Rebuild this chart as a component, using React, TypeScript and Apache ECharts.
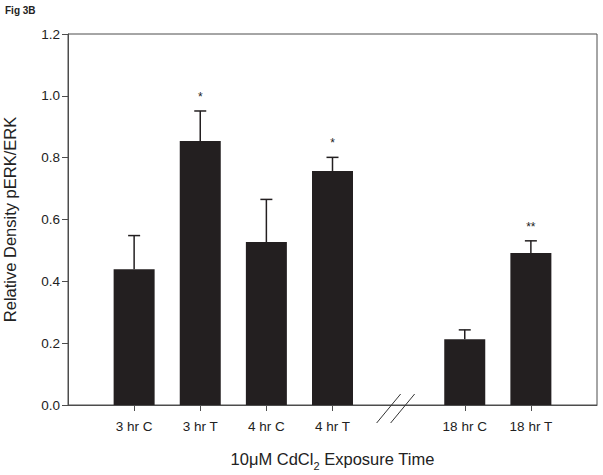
import { useEffect, useRef } from 'react';
import * as echarts from 'echarts';

const categories = ['3 hr C', '3 hr T', '4 hr C', '4 hr T', '18 hr C', '18 hr T'];
const positions = [1, 2, 3, 4, 6, 7];
const means = [0.439, 0.854, 0.527, 0.757, 0.213, 0.492];
const errors = [0.109, 0.097, 0.138, 0.044, 0.030, 0.039];
const marks = ['', '*', '', '*', '', '**'];
const breakAt = [5];

const FONT = '"Liberation Sans", Arial, sans-serif';
const AXIS = '#4d4d4d';
const BAR = '#231f20';

export default function App() {
  const ref = useRef<HTMLDivElement>(null);
  useEffect(() => {
    if (!ref.current) return;
    const chart = echarts.init(ref.current, undefined, { renderer: 'svg' });
    const barData = positions.map((p, i) => [p, means[i]]);
    const errData = positions.map((p, i) => [p, means[i], errors[i], i]);
    chart.setOption({
      animation: false,
      textStyle: { fontFamily: FONT },
      grid: {
        left: 68, right: 6, top: 34, bottom: 70,
        show: true, borderColor: AXIS, borderWidth: 1,
        containLabel: false, outerBoundsMode: 'none',
      },
      graphic: [
        { type: 'text', left: 5, top: 5, style: { text: 'Fig 3B', font: 'bold 10px ' + FONT, fill: '#222' } },
      ],
      xAxis: {
        type: 'value',
        min: 0,
        max: 8,
        interval: 1,
        splitLine: { show: false },
        axisLine: { show: true, lineStyle: { color: AXIS, width: 1 } },
        axisTick: { show: true, customValues: positions, length: 6, lineStyle: { color: AXIS } },
        axisLabel: {
          customValues: positions,
          formatter: (v: number) => categories[positions.indexOf(v)] ?? '',
          fontSize: 13.5,
          color: '#222',
          margin: 14,
          fontFamily: FONT,
        },
        name: '{a|10μM CdCl}{s|2}{a| Exposure Time}',
        nameLocation: 'middle',
        nameGap: 42,
        nameTextStyle: {
          rich: {
            a: { fontSize: 16.5, color: '#222', fontFamily: FONT, lineHeight: 20, verticalAlign: 'bottom' },
            s: { fontSize: 11, color: '#222', fontFamily: FONT, lineHeight: 20, verticalAlign: 'bottom', padding: [0, 0, -4, 0] },
          },
        },
      },
      yAxis: {
        type: 'value',
        min: 0,
        max: 1.2,
        interval: 0.2,
        splitLine: { show: false },
        axisLine: { show: true, lineStyle: { color: AXIS, width: 1 } },
        axisTick: { show: true, length: 6, lineStyle: { color: AXIS } },
        axisLabel: { formatter: (v: number) => v.toFixed(1), fontSize: 13.5, color: '#222', margin: 8, fontFamily: FONT },
        name: 'Relative Density pERK/ERK',
        nameLocation: 'middle',
        nameGap: 50,
        nameTextStyle: { fontSize: 16.5, color: '#222', fontFamily: FONT },
      },
      series: [
        {
          type: 'bar',
          data: barData,
          barWidth: 41,
          itemStyle: { color: BAR },
          silent: true,
        },
        {
          type: 'custom',
          clip: false,
          silent: true,
          data: errData,
          renderItem: (params: any, api: any) => {
            const x = api.value(0);
            const y = api.value(1);
            const e = api.value(2);
            const idx = api.value(3);
            const base = api.coord([x, y]);
            const top = api.coord([x, y + e]);
            return {
              type: 'group',
              children: [
                { type: 'line', shape: { x1: base[0], y1: base[1], x2: top[0], y2: top[1] }, style: { stroke: BAR, lineWidth: 1.5 } },
                { type: 'line', shape: { x1: top[0] - 6, y1: top[1], x2: top[0] + 6, y2: top[1] }, style: { stroke: BAR, lineWidth: 1.5 } },
                {
                  type: 'text',
                  x: top[0],
                  y: top[1] - 8,
                  style: { text: marks[idx], fontSize: 12, fontFamily: FONT, fill: '#222', align: 'center', verticalAlign: 'bottom' },
                },
              ],
            };
          },
        },
        {
          type: 'custom',
          clip: false,
          silent: true,
          data: breakAt.map((b) => [b, 0]),
          renderItem: (params: any, api: any) => {
            const c = api.coord([api.value(0), 0]);
            return {
              type: 'group',
              children: [
                { type: 'line', shape: { x1: c[0] - 22, y1: c[1] + 18, x2: c[0] + 2, y2: c[1] - 11 }, style: { stroke: '#333', lineWidth: 1 } },
                { type: 'line', shape: { x1: c[0] - 8, y1: c[1] + 18, x2: c[0] + 16, y2: c[1] - 11 }, style: { stroke: '#333', lineWidth: 1 } },
              ],
            };
          },
        },
      ],
    });
    return () => chart.dispose();
  }, []);
  return <div ref={ref} style={{ width: 603, height: 475, position: 'absolute', left: 0, top: 0 }} />;
}
